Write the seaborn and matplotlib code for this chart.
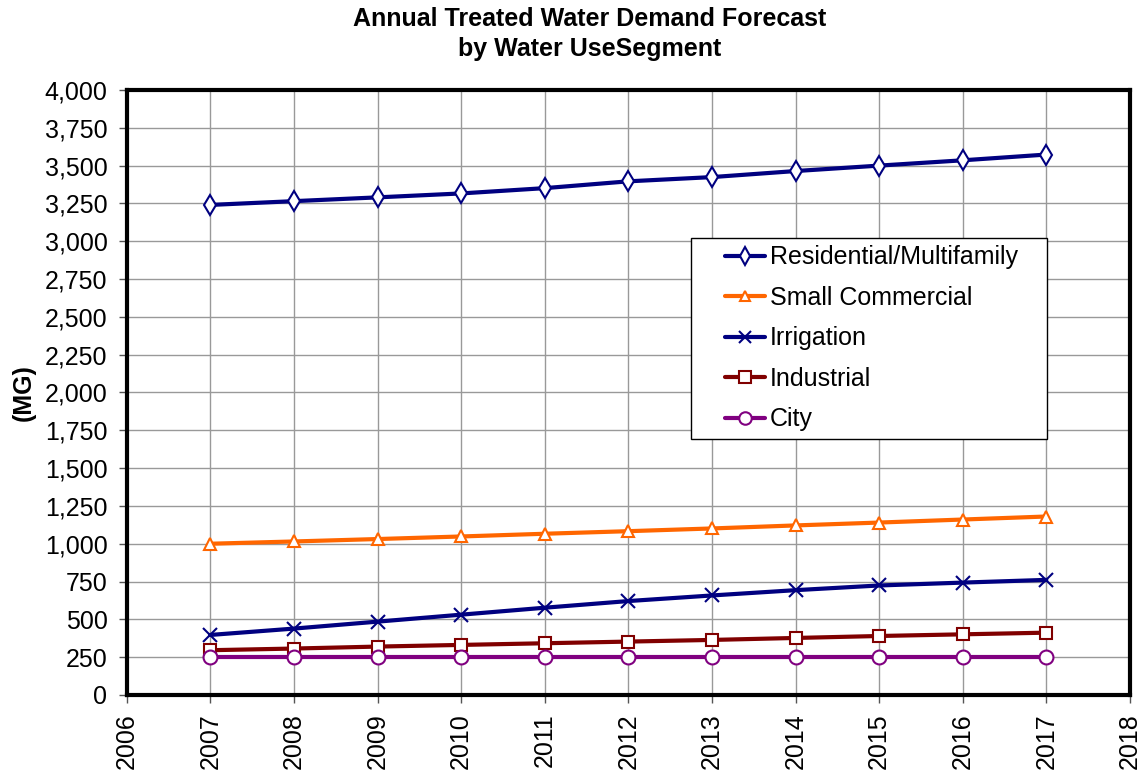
import numpy as np
import pandas as pd
import matplotlib
matplotlib.use("Agg")
import matplotlib.pyplot as plt
from matplotlib.ticker import FuncFormatter, MultipleLocator
from matplotlib.legend_handler import HandlerLine2D
from matplotlib.lines import Line2D
import seaborn as sns

years = [2007, 2008, 2009, 2010, 2011, 2012, 2013, 2014, 2015, 2016, 2017]
residential = [3240, 3265, 3290, 3316, 3351, 3396, 3424, 3464, 3500, 3535, 3573]
small_commercial = [1000, 1015, 1031, 1048, 1066, 1083, 1101, 1121, 1140, 1160, 1180]
irrigation = [397, 439, 485, 531, 577, 621, 658, 693, 724, 743, 761]
industrial = [296, 307, 320, 331, 342, 353, 364, 377, 390, 401, 412]
city = [248, 248, 248, 248, 248, 248, 248, 248, 248, 248, 248]

segments = ["Residential/Multifamily", "Small Commercial", "Irrigation", "Industrial", "City"]
values = [residential, small_commercial, irrigation, industrial, city]
colors = ["#000080", "#FF6600", "#000080", "#800000", "#800080"]
markers = ["d", "^", "x", "s", "o"]
marker_sizes = [10, 8, 10, 9, 10]

sns.set_theme(style="white")
plt.rcParams["font.family"] = ["Liberation Sans", "DejaVu Sans"]
plt.rcParams["text.color"] = "black"
plt.rcParams["axes.labelcolor"] = "black"

df = pd.DataFrame({
    "Year": np.tile(years, len(segments)),
    "Demand": np.concatenate(values),
    "Segment": np.repeat(segments, len(years)),
})

fig = plt.figure(figsize=(11.43, 7.71), dpi=100)
ax = fig.add_axes([0.111, 0.0986, 0.8775, 0.7847])

for name, col, mk, ms in zip(segments, colors, markers, marker_sizes):
    sub = df[df["Segment"] == name]
    filled = mk == "x"
    sns.lineplot(
        data=sub, x="Year", y="Demand", ax=ax, color=col, linewidth=3,
        marker=mk, markersize=ms,
        markerfacecolor=col if filled else "white",
        markeredgecolor=col, markeredgewidth=1.5,
        label=name, zorder=3,
    )

ax.set_xlim(2006, 2018)
ax.set_ylim(0, 4000)
ax.xaxis.set_major_locator(MultipleLocator(1))
ax.yaxis.set_major_locator(MultipleLocator(250))
ax.yaxis.set_major_formatter(FuncFormatter(lambda v, p: f"{int(v):,}"))
ax.tick_params(axis="x", labelrotation=90, labelsize=18, direction="out",
               length=6, width=1, color="#555555", labelcolor="black",
               bottom=True, pad=7)
ax.tick_params(axis="y", labelsize=18, direction="out", length=6, width=1,
               color="#555555", labelcolor="black", left=True, pad=8)

ax.grid(True, color="#999999", linewidth=1)
ax.set_axisbelow(True)
for s in ax.spines.values():
    s.set_color("black")
    s.set_linewidth(3)
    s.set_visible(True)

ax.set_xlabel("")
ax.set_ylabel("(MG)", fontsize=18, fontweight="bold", labelpad=6)

fig.text(0.516, 0.975, "Annual Treated Water Demand Forecast", ha="center",
         va="center", fontsize=18, fontweight="bold")
fig.text(0.516, 0.937, "by Water UseSegment", ha="center",
         va="center", fontsize=18, fontweight="bold")

handler = HandlerLine2D(xpad=1.05)
handles, labels = ax.get_legend_handles_labels()
leg = ax.legend(handles, labels, loc="upper left",
                bbox_to_anchor=(0.5623, 0.40, 0.355, 0.3554), mode="expand",
                fontsize=18, frameon=True, fancybox=False, edgecolor="black",
                borderpad=0.3, labelspacing=0.66, handlelength=2.65,
                handletextpad=0.2, borderaxespad=0, markerscale=0.9,
                handler_map={Line2D: handler})
leg.get_frame().set_linewidth(1)
leg.get_frame().set_facecolor("white")
leg.get_frame().set_alpha(1)
for line in leg.get_lines():
    line.set_linewidth(3)

fig.savefig("out.png", dpi=100)
